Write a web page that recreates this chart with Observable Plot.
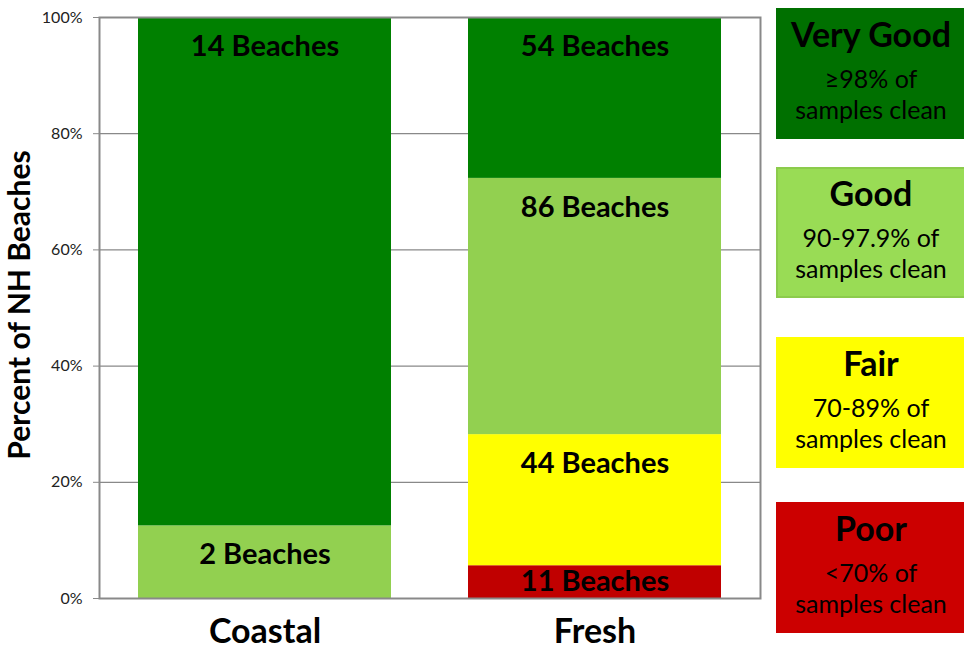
<!DOCTYPE html>
<html>
<head>
<meta charset="utf-8">
<script src="https://cdn.jsdelivr.net/npm/d3@7"></script>
<script src="https://cdn.jsdelivr.net/npm/@observablehq/plot@0.6"></script>
<style>
  html, body { margin: 0; padding: 0; background: #fff; }
  #wrap { position: relative; width: 964px; height: 652px; font-family: Lato, "Noto Sans", sans-serif; }
  .lg { position: absolute; box-sizing: border-box; text-align: center; color: #000; }
  .lg .t { font-weight: bold; font-size: 34px; line-height: 36px; margin-top: 6px; }
  .lg .s { font-size: 25px; line-height: 31px; margin-top: 11px; }
</style>
</head>
<body>
<div id="wrap"></div>
<script>
const groups = ["Coastal", "Fresh"];
const ratings = ["Poor", "Fair", "Good", "Very Good"];
const barColors = ["#c00000", "#ffff00", "#92d050", "#008000"];
const coastalCounts = [0, 0, 2, 14];
const freshCounts = [11, 44, 86, 54];
const legendTitles = ["Very Good", "Good", "Fair", "Poor"];
const legendLines = [["≥98% of", "samples clean"], ["90-97.9% of", "samples clean"], ["70-89% of", "samples clean"], ["<70% of", "samples clean"]];
const legendColors = ["#007000", "#99dc55", "#ffff00", "#cc0000"];
const legendBorders = ["#007000", "#8ccb4c", "#ffff00", "#cc0000"];
const yTicks = [0, 0.2, 0.4, 0.6, 0.8, 1];

const data = [];
[coastalCounts, freshCounts].forEach((counts, gi) => {
  const total = d3.sum(counts);
  counts.forEach((c, ri) => {
    if (c > 0) data.push({group: groups[gi], rating: ratings[ri], count: c, share: c / total, label: `${c} Beaches`});
  });
});
const stackOpts = {x: "group", y: "count", z: "rating", offset: "normalize", order: ratings};

const chart = Plot.plot({
  width: 964,
  height: 652,
  marginLeft: 99,
  marginRight: 204,
  marginTop: 17,
  marginBottom: 54,
  style: {fontFamily: "Lato, 'Noto Sans', sans-serif", background: "#fff"},
  x: {domain: groups, paddingInner: 0.233, paddingOuter: 0.115, label: null},
  y: {domain: [0, 1], label: null},
  color: {domain: ratings, range: barColors},
  marks: [
    Plot.gridY(yTicks, {stroke: "#898989", strokeOpacity: 1, strokeWidth: 1.2}),
    Plot.barY(data, Plot.stackY({...stackOpts, fill: "rating"})),
    Plot.text(data, Plot.stackY2({...stackOpts, text: d => d.share >= 0.1 ? d.label : null, dy: 29, fontSize: 29, fontWeight: "bold", fill: "#000"})),
    Plot.text(data, Plot.stackY({...stackOpts, text: d => d.share < 0.1 ? d.label : null, dy: 0, fontSize: 29, fontWeight: "bold", fill: "#000"})),
    Plot.frame({stroke: "#898989", strokeWidth: 2}),
    Plot.axisY({ticks: yTicks, tickFormat: d => `${Math.round(d * 100)}%`, tickSize: 6, tickPadding: 11, fontSize: 16, fill: "#222", stroke: "#898989", label: null}),
    Plot.axisX({tickSize: 0, tickPadding: 20, fontSize: 34, fontWeight: "bold", fill: "#000", label: null})
  ]
});
const wrap = document.getElementById("wrap");
wrap.appendChild(chart);

// y-axis title
const svg = d3.select(chart);
svg.append("text")
  .attr("transform", "translate(22,305) rotate(-90)")
  .attr("text-anchor", "middle")
  .attr("dominant-baseline", "middle")
  .attr("font-size", 30)
  .attr("font-weight", "bold")
  .attr("font-family", "Lato, 'Noto Sans', sans-serif")
  .attr("fill", "#000")
  .text("Percent of NH Beaches");

// legend boxes
const boxTops = [8, 167, 337, 502];
legendTitles.forEach((t, i) => {
  const div = document.createElement("div");
  div.className = "lg";
  div.style.left = "776px";
  div.style.top = boxTops[i] + "px";
  div.style.width = "190px";
  div.style.height = "131px";
  div.style.background = legendColors[i];
  div.style.border = `2px solid ${legendBorders[i]}`;
  div.innerHTML = `<div class="t">${t}</div><div class="s">${legendLines[i][0]}<br>${legendLines[i][1]}</div>`;
  wrap.appendChild(div);
});
</script>
</body>
</html>
